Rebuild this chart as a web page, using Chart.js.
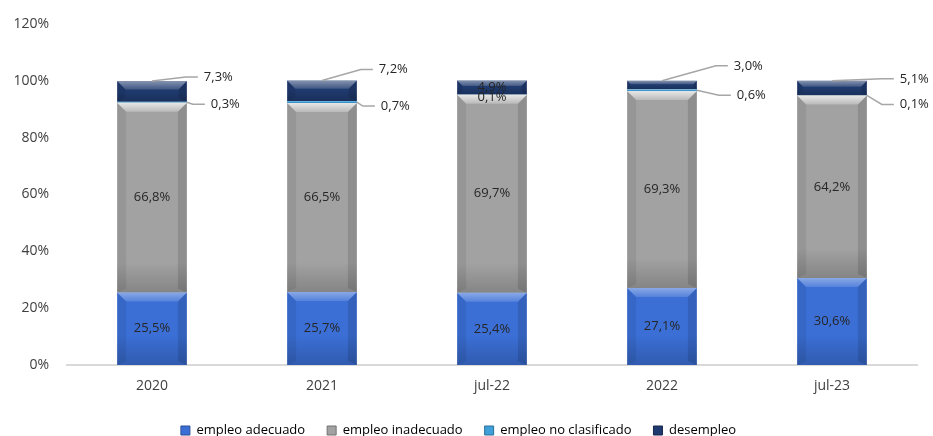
<!DOCTYPE html>
<html>
<head>
<meta charset="utf-8">
<script src="https://cdn.jsdelivr.net/npm/chart.js@4"></script>
<style>
  html, body { margin: 0; padding: 0; background: #fff; }
  #wrap { width: 933px; height: 436px; }
</style>
</head>
<body>
<div id="wrap"><canvas id="chart" width="933" height="436"></canvas></div>
<script>
// Categorías y series (porcentajes)
const categories = ['2020', '2021', 'jul-22', '2022', 'jul-23'];
const empleoAdecuado = [25.5, 25.7, 25.4, 27.1, 30.6];
const empleoInadecuado = [66.8, 66.5, 69.7, 69.3, 64.2];
const empleoNoClasificado = [0.3, 0.7, 0.1, 0.6, 0.1];
const desempleo = [7.3, 7.2, 4.9, 3.0, 5.1];
const yTicks = [0, 20, 40, 60, 80, 100, 120];

const fmt = v => v.toFixed(1).replace('.', ',') + '%';

// Posición de etiquetas pequeñas: [dx desde borde derecho, dy desde el ancla], null = dentro
const calloutTop = [[17, -4], [22, -11], null, [37, -15], [33, -2]];
const calloutMid = [[24, 2], [24, 4], null, [40, 5], [33, 9]];
const insideDy = { 2: -3, 3: 1 };
// brillo del bisel superior por serie
const bevelLight = [0.4, 0.75, 0.4, 0.45];

function shade(hex, amt) {
  const n = parseInt(hex.slice(1), 16);
  let r = (n >> 16) & 255, g = (n >> 8) & 255, b = n & 255;
  const f = c => Math.max(0, Math.min(255, Math.round(amt > 0 ? c + (255 - c) * amt : c * (1 + amt))));
  return 'rgb(' + f(r) + ',' + f(g) + ',' + f(b) + ')';
}

// Efecto biselado sobre cada segmento
const bevelPlugin = {
  id: 'bevel',
  afterDatasetsDraw(chart) {
    const ctx = chart.ctx;
    chart.data.datasets.forEach((ds, di) => {
      const meta = chart.getDatasetMeta(di);
      meta.data.forEach(bar => {
        const { x, y, base, width } = bar.getProps(['x', 'y', 'base', 'width'], true);
        const l = x - width / 2, r = x + width / 2, t = Math.min(y, base), b = Math.max(y, base);
        const h = b - t;
        if (h < 1.5) return;
        const e = Math.min(9, h / 2.5);
        const eb = Math.min(4, h / 4);
        ctx.save();
        // lados
        ctx.fillStyle = 'rgba(0,0,0,0.07)';
        ctx.beginPath();
        ctx.moveTo(l, t); ctx.lineTo(l + e, t + e); ctx.lineTo(l + e, b - eb); ctx.lineTo(l, b); ctx.closePath(); ctx.fill();
        ctx.fillStyle = 'rgba(0,0,0,0.12)';
        ctx.beginPath();
        ctx.moveTo(r, t); ctx.lineTo(r - e, t + e); ctx.lineTo(r - e, b - eb); ctx.lineTo(r, b); ctx.closePath(); ctx.fill();
        // superior claro
        const a = bevelLight[di];
        const g = ctx.createLinearGradient(0, t, 0, t + e);
        g.addColorStop(0, 'rgba(255,255,255,' + a + ')');
        g.addColorStop(1, 'rgba(255,255,255,' + (a / 3) + ')');
        ctx.fillStyle = g;
        ctx.beginPath();
        ctx.moveTo(l, t); ctx.lineTo(r, t); ctx.lineTo(r - e, t + e); ctx.lineTo(l + e, t + e); ctx.closePath(); ctx.fill();
        // inferior oscuro
        const hb = Math.min(30, h / 2);
        const gb = ctx.createLinearGradient(0, b - hb, 0, b);
        gb.addColorStop(0, 'rgba(0,0,0,0)');
        gb.addColorStop(1, 'rgba(0,0,0,0.18)');
        ctx.fillStyle = gb;
        ctx.fillRect(l, b - hb, width, hb);
        ctx.restore();
      });
    });
  }
};

// Etiquetas de datos con líneas guía
const labelPlugin = {
  id: 'labels',
  afterDatasetsDraw(chart) {
    const ctx = chart.ctx;
    ctx.save();
    ctx.font = '13px "Open Sans"';
    ctx.fillStyle = '#262626';
    ctx.textBaseline = 'middle';
    chart.data.datasets.forEach((ds, di) => {
      const meta = chart.getDatasetMeta(di);
      meta.data.forEach((bar, i) => {
        const { x, y, base, width } = bar.getProps(['x', 'y', 'base', 'width'], true);
        const text = fmt(ds.data[i]);
        if (di < 2) {
          ctx.textAlign = 'center';
          ctx.fillText(text, x, (y + base) / 2);
          return;
        }
        const call = di === 3 ? calloutTop[i] : calloutMid[i];
        if (!call) {
          ctx.textAlign = 'center';
          ctx.fillText(text, x, y + 6 + insideDy[di]);
          return;
        }
        const right = x + width / 2;
        const ax = di === 3 ? x : right;
        const ay = di === 3 ? y : (y + base) / 2;
        const tx = right + call[0];
        const ty = ay + call[1];
        ctx.strokeStyle = '#a6a6a6';
        ctx.lineWidth = 1.5;
        ctx.beginPath();
        ctx.moveTo(ax, ay);
        ctx.lineTo(tx - 18, ty);
        ctx.lineTo(tx - 6, ty);
        ctx.stroke();
        ctx.textAlign = 'left';
        ctx.fillText(text, tx, ty);
      });
    });
    ctx.restore();
  }
};

const colors = ['#3b6fd6', '#a2a2a2', '#3f9fd9', '#1f3a6e'];

new Chart(document.getElementById('chart'), {
  type: 'bar',
  data: {
    labels: categories,
    datasets: [
      { label: 'empleo adecuado', data: empleoAdecuado, backgroundColor: colors[0] },
      { label: 'empleo inadecuado', data: empleoInadecuado, backgroundColor: colors[1] },
      { label: 'empleo no clasificado', data: empleoNoClasificado, backgroundColor: colors[2] },
      { label: 'desempleo', data: desempleo, backgroundColor: colors[3] }
    ]
  },
  options: {
    responsive: false,
    animation: false,
    devicePixelRatio: 1,
    categoryPercentage: 1,
    barPercentage: 0.41,
    layout: { padding: { top: 24, right: 16, left: 0, bottom: -11 } },
    plugins: {
      legend: {
        position: 'bottom',
        labels: {
          boxWidth: 9,
          boxHeight: 9,
          padding: 22,
          color: '#404040',
          font: { family: 'Open Sans', size: 13 },
          generateLabels(chart) {
            return chart.data.datasets.map((ds, i) => ({
              text: ds.label,
              fillStyle: ds.backgroundColor,
              strokeStyle: shade(ds.backgroundColor, -0.3),
              lineWidth: 1,
              datasetIndex: i
            }));
          }
        }
      },
      tooltip: { enabled: false }
    },
    scales: {
      x: {
        stacked: true,
        afterFit(scale) { scale.height = 37; },
        grid: { display: false },
        border: { color: '#d9d9d9', width: 2 },
        ticks: { color: '#404040', padding: 5, font: { family: 'Open Sans', size: 14 } }
      },
      y: {
        stacked: true,
        min: 0,
        max: 120,
        afterFit(scale) { scale.width = 67; },
        afterBuildTicks(scale) { scale.ticks = yTicks.map(v => ({ value: v })); },
        grid: { display: false },
        border: { display: false },
        ticks: {
          color: '#404040',
          padding: 10,
          font: { family: 'Open Sans', size: 14 },
          callback: v => v + '%'
        }
      }
    }
  },
  plugins: [bevelPlugin, labelPlugin]
});
</script>
</body>
</html>
